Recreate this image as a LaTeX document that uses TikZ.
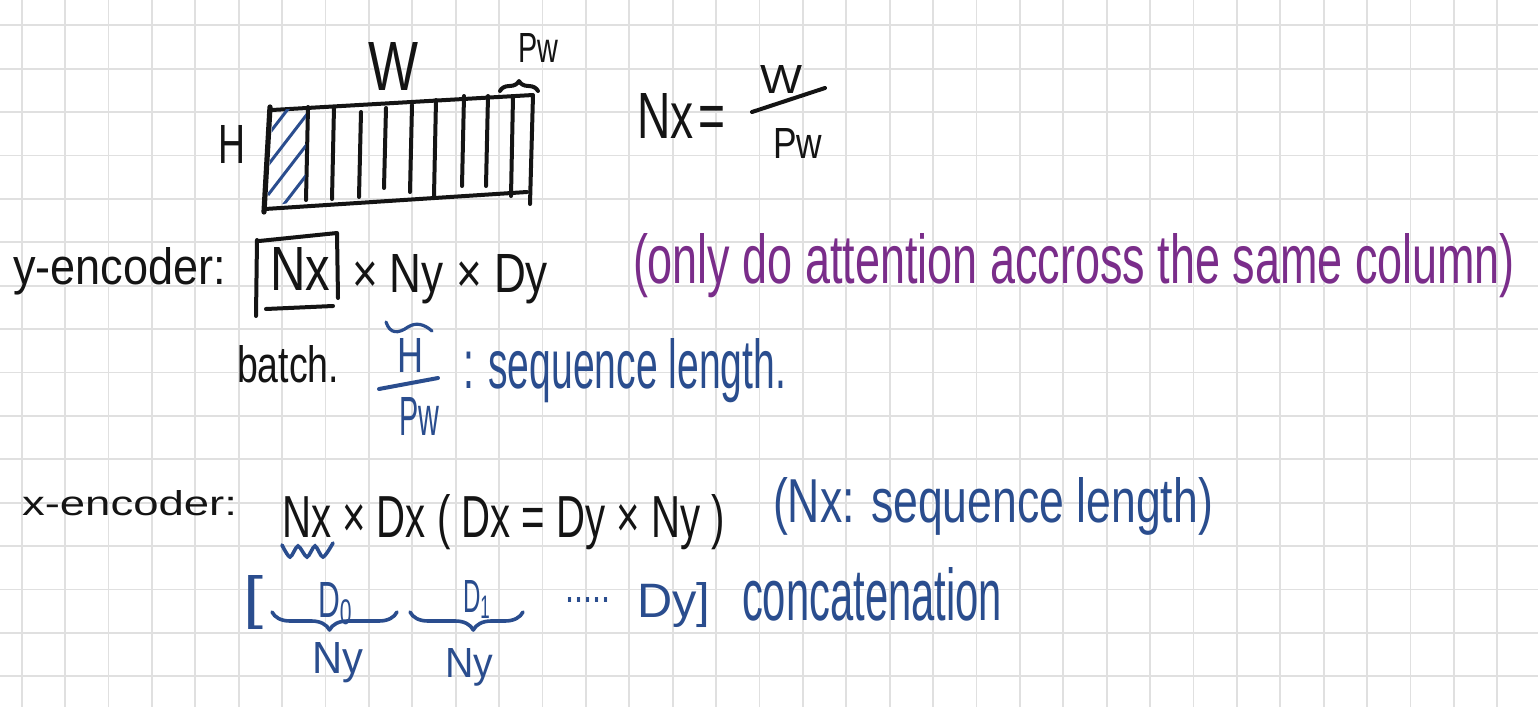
\documentclass[tikz,border=0pt]{standalone}
\usepackage{fontspec}
\setmainfont{Liberation Sans}
\usepackage{graphicx}
\usetikzlibrary{decorations.pathreplacing}
\definecolor{ink}{HTML}{141414}
\definecolor{penblue}{HTML}{2A4D8E}
\definecolor{penpurple}{HTML}{7A2D8A}
\definecolor{gridgray}{HTML}{E0E0E0}
\newlength{\pxu}\setlength{\pxu}{0.5pt}
\newcommand{\hw}[3]{\resizebox{#1\pxu}{#2\pxu}{#3}}
\tikzset{
  txt/.style={anchor=base west,inner sep=0pt,outer sep=0pt},
  pen/.style={line width=2pt,line cap=round,line join=round},
}

\begin{document}
\begin{tikzpicture}[x=0.5pt,y=-0.5pt]
  \fill[white] (0,0) rectangle (1538,707);
  \useasboundingbox (0,0) rectangle (1538,707);
  % grid paper
  \foreach \i in {0,...,34}
    \draw[gridgray,line width=0.9pt] ({21.7+43.4*\i},0) -- ++(0,707);
  \foreach \j in {0,...,15}
    \draw[gridgray,line width=0.9pt] (0,{25.3+43.4*\j}) -- ++(1538,0);

  % image strip H x W, cut into columns of width Pw
  \draw[pen,ink] (272,110) -- (533,95) -- (530,204);
  \draw[pen,ink] (265,209) -- (527,192);
  \draw[pen,ink,line width=2.6pt] (270,107) -- (264,212);
  \foreach \x/\t/\b in {307/107/200,333/107/199,360/112/197,385/108/188,411/105/192,
                        435/100/196,463/96/186,487/96/186,512/97/196}
    \draw[pen,ink] (\x+1,\t) -- (\x-1,\b);
  \begin{scope}
    \clip (273,110) -- (306,108) -- (305,200) -- (267,207) -- cycle;
    \foreach \c in {135,165,195,225,255}
      \draw[penblue,line width=1.5pt] (268,\c) -- ++(40,-52);
  \end{scope}
  \draw[pen,ink,decorate,decoration={brace,amplitude=5pt}] (500,91) -- (538,91);
  \node[txt,text=ink] (wlab) at (368,90) {\hw{50}{48}{W}};
  \node[txt,text=ink] (pwlab) at (518,62) {\hw{40}{29}{Pw}};
  \node[txt,text=ink] (hlab) at (218,163) {\hw{27}{38}{H}};

  % Nx = W / Pw
  \node[txt,text=ink] (nxeq) at (637,138) {\hw{88}{45}{Nx\kern0.1em=}};
  \node[txt,text=ink] (fracw) at (760,93) {\hw{42}{28}{W}};
  \draw[pen,ink] (752,112) -- (825,88);
  \node[txt,text=ink] (fracpw) at (773,158) {\hw{49}{30}{Pw}};

  % y-encoder
  \node[txt,text=ink] (yenc) at (13,284) {\hw{213}{37}{y-encoder:}};
  \node[txt,text=ink] (nxbox) at (270,290) {\hw{60}{43}{Nx}};
  \draw[pen,ink] (259,241) -- (337,233) -- (338,298);
  \draw[pen,ink] (257,240) -- (256,316);
  \draw[pen,ink] (266,309) -- (333,306);
  \node[txt,text=ink] (ydims) at (352,292) {\hw{196}{38}{× Ny × Dy}};
  \node[txt,text=penpurple] (attn) at (633,283)
    {\hw{882}{50}{(only do attention accross the same column)}};
  \node[txt,text=ink] (batch) at (237,382) {\hw{102}{37}{batch.}};
  \draw[pen,penblue,line width=1.6pt] (386,322) .. controls (390,334) and (398,334) .. (408,327)
    .. controls (416,322) and (424,324) .. (432,331);
  \node[txt,text=penblue] (seqh) at (397,372) {\hw{26}{34}{H}};
  \draw[pen,penblue] (379,389) -- (438,378);
  \node[txt,text=penblue] (seqpw) at (399,435) {\hw{40}{38}{Pw}};
  \node[txt,text=penblue] (seqlen) at (463,388) {\hw{323}{50}{: sequence length.}};

  % x-encoder
  \node[txt,text=ink] (xenc) at (22,515) {\hw{215}{25}{x-encoder:}};
  \node[txt,text=ink] (xdims) at (282,537) {\hw{443}{43}{Nx × Dx ( Dx = Dy × Ny )}};
  \draw[penblue,line width=1.8pt,line cap=round] plot[smooth] coordinates
    {(282,545) (290,557) (298,546) (307,557) (315,546) (323,557) (333,543)};
  \node[txt,text=penblue] (xnote) at (773,522) {\hw{440}{45}{(Nx: sequence length)}};
  \node[txt,text=penblue] (lbrack) at (243,617) {\hw{20}{42}{[}};
  \node[txt,text=penblue] (dzero) at (318,617) {\hw{35}{35}{D\textsubscript{0}}};
  \draw[pen,penblue,line width=1.8pt,decorate,decoration={brace,amplitude=9pt,aspect=0.54}]
    (397,612) -- (272,612);
  \node[txt,text=penblue] (nyone) at (312,673) {\hw{51}{31}{Ny}};
  \node[txt,text=penblue] (done) at (463,612) {\hw{28}{32}{D\textsubscript{1}}};
  \draw[pen,penblue,line width=1.8pt,decorate,decoration={brace,amplitude=9pt,aspect=0.44}]
    (523,612) -- (410,612);
  \node[txt,text=penblue] (nytwo) at (445,677) {\hw{48}{29}{Ny}};
  \node[txt,text=penblue] (dots) at (565,602) {\hw{45}{5}{.....}};
  \node[txt,text=penblue] (dylast) at (637,617) {\hw{73}{35}{Dy]}};
  \node[txt,text=penblue] (concat) at (742,620) {\hw{260}{53}{concatenation}};
\end{tikzpicture}
\end{document}
